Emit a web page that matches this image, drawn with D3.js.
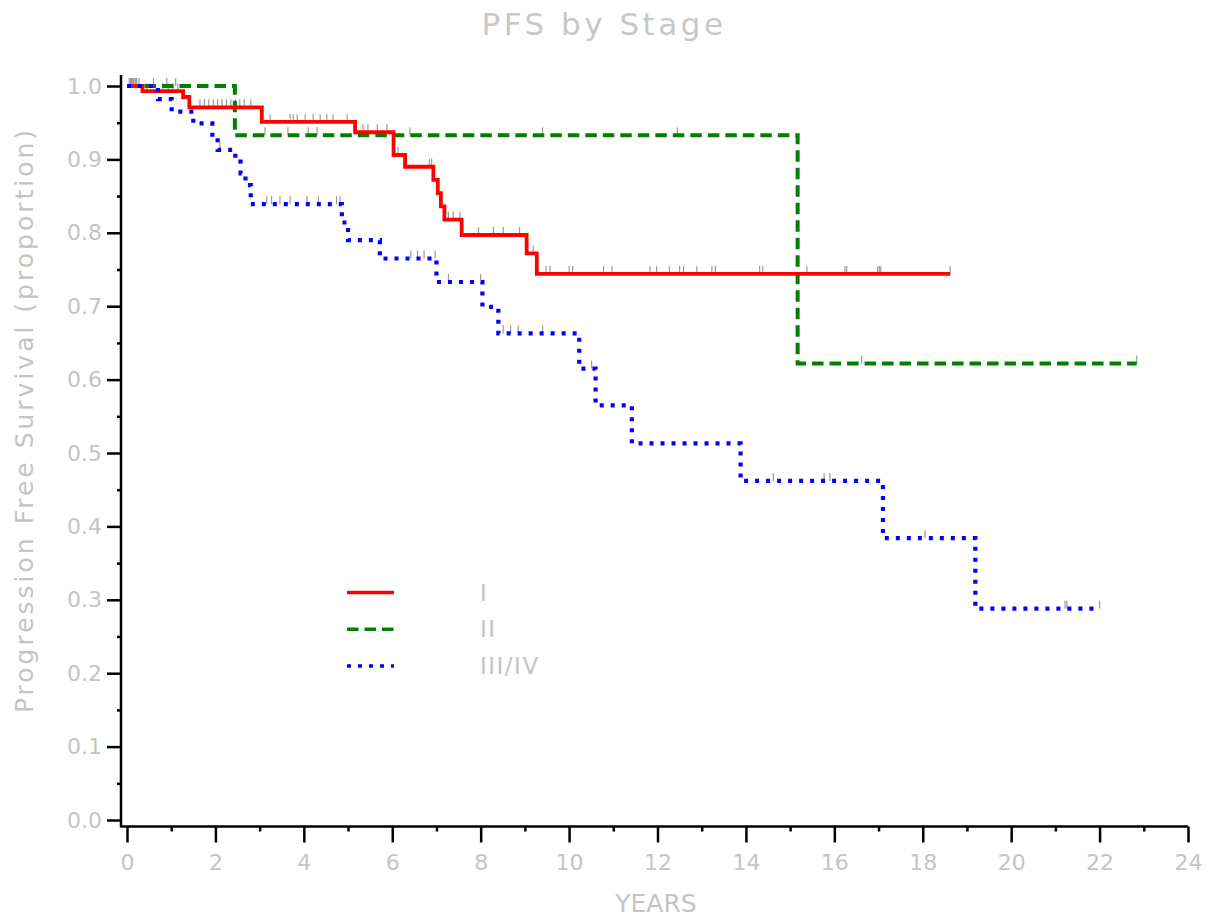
<!DOCTYPE html>
<html>
<head>
<meta charset="utf-8">
<script src="https://cdn.jsdelivr.net/npm/d3@7"></script>
<style>
  body { margin: 0; background: #fff; }
  text { font-family: "DejaVu Sans", sans-serif; fill: #c4c4c4; }
</style>
</head>
<body>
<div id="chart"></div>
<script>
// Kaplan-Meier step data (years, proportion)
const stageITime = [0, 0.35, 1.27, 1.41, 3.05, 5.16, 6.03, 6.29, 6.93, 7.03, 7.10, 7.18, 7.57, 9.04, 9.27, 18.62];
const stageISurv = [1.0, 0.993, 0.985, 0.971, 0.951, 0.937, 0.906, 0.890, 0.872, 0.854, 0.836, 0.818, 0.797, 0.772, 0.744, 0.744];

const stageIITime = [0, 2.44, 15.17, 22.84];
const stageIISurv = [1.0, 0.933, 0.622, 0.622];

const stageIIITime = [0, 0.70, 1.01, 1.50, 1.93, 2.05, 2.45, 2.57, 2.68, 2.80, 4.86, 5.00, 5.72, 7.00, 8.04, 8.40, 10.23, 10.60, 11.42, 13.88, 17.10, 19.19, 21.97];
const stageIIISurv = [1.0, 0.982, 0.965, 0.949, 0.930, 0.913, 0.897, 0.881, 0.865, 0.839, 0.814, 0.790, 0.765, 0.733, 0.699, 0.663, 0.615, 0.565, 0.513, 0.462, 0.384, 0.288, 0.288];

// censoring times
const stageICensor = [0.05, 0.08, 0.10, 0.12, 0.15, 0.18, 0.22, 0.27, 0.45, 0.81, 0.93, 1.04, 1.15,
  1.65, 1.75, 1.85, 1.95, 2.05, 2.15, 2.25, 2.35, 2.45, 2.55, 2.65, 2.80,
  3.24, 3.69, 3.76, 3.85, 4.03, 4.21, 4.37, 4.52, 4.66, 4.98, 5.34, 5.45, 5.66, 5.88, 6.13,
  6.84, 6.89, 7.27, 7.38, 7.53, 7.95, 8.29, 8.51, 8.88, 9.19,
  9.48, 9.57, 10.00, 10.08, 10.78, 10.97, 11.83, 11.98, 12.27, 12.50, 12.59, 12.89, 13.23, 13.31,
  14.31, 14.38, 15.38, 16.24, 16.28, 16.98, 17.02, 17.05, 18.62];
const stageIICensor = [0.20, 0.60, 0.90, 1.10, 3.12, 3.64, 4.10, 4.30, 6.40, 9.40, 12.45, 16.62, 22.84];
const stageIIICensor = [0.10, 0.20, 2.10, 3.16, 3.27, 3.46, 3.69, 4.07, 4.33, 4.74, 4.82,
  6.42, 6.57, 6.72, 6.97, 7.27, 8.00, 8.51, 8.68, 8.85, 9.40, 10.51,
  14.62, 15.77, 15.90, 18.05, 21.22, 21.26, 22.00];

const groupNames = ["I", "II", "III/IV"];
const xMajor = d3.range(0, 25, 2);
const xMinor = d3.range(1, 24, 2);
const yMajor = d3.range(0, 11).map(d => d / 10);
const yMinor = d3.range(0, 10).map(d => d / 10 + 0.05);

const groups = [
  { name: groupNames[1], time: stageIITime, surv: stageIISurv, censor: stageIICensor,
    color: "#008000", width: 4, dash: "11.5,6" },
  { name: groupNames[0], time: stageITime, surv: stageISurv, censor: stageICensor,
    color: "#ff0000", width: 3.8, dash: null },
  { name: groupNames[2], time: stageIIITime, surv: stageIIISurv, censor: stageIIICensor,
    color: "#0000ff", width: 4.2, dash: "4,7" }
];

const width = 1219, height = 922;
const svg = d3.select("#chart").append("svg")
  .attr("width", width)
  .attr("height", height);

const x = d3.scaleLinear().domain([0, 24]).range([127, 1188]);
const y = d3.scaleLinear().domain([0, 1]).range([820, 86]);

// title
svg.append("text")
  .attr("x", 604).attr("y", 35)
  .attr("text-anchor", "middle")
  .style("font-size", "31px")
  .style("letter-spacing", "3.5px")
  .style("fill", "#c8c8c8")
  .text("PFS by Stage");

// axes
const axisY = 826.5, axisX = 121;

svg.append("g").attr("transform", `translate(0, ${axisY})`)
  .call(d3.axisBottom(x).tickValues(xMajor).tickSize(16).tickPadding(12).tickSizeOuter(0));
svg.append("g").attr("transform", `translate(0, ${axisY})`)
  .call(d3.axisBottom(x).tickValues(xMinor).tickSize(5).tickFormat("").tickSizeOuter(0));

svg.append("g").attr("transform", `translate(${axisX}, 0)`)
  .call(d3.axisLeft(y).tickValues(yMajor).tickFormat(d3.format(".1f")).tickSize(14).tickPadding(5).tickSizeOuter(0));
svg.append("g").attr("transform", `translate(${axisX}, 0)`)
  .call(d3.axisLeft(y).tickValues(yMinor).tickSize(4).tickFormat("").tickSizeOuter(0));

svg.selectAll(".domain").remove();
svg.selectAll(".tick line").attr("stroke", "#000").attr("stroke-width", 2.5);
svg.selectAll(".tick text")
  .style("font-size", "22px")
  .style("font-family", "'DejaVu Sans', sans-serif")
  .attr("fill", "#c4c4c4");

svg.append("line")
  .attr("x1", axisX).attr("x2", x(24))
  .attr("y1", axisY).attr("y2", axisY)
  .attr("stroke", "#000").attr("stroke-width", 2.5);
svg.append("line")
  .attr("x1", axisX).attr("x2", axisX)
  .attr("y1", y(1.015)).attr("y2", axisY + 1)
  .attr("stroke", "#000").attr("stroke-width", 2.5);

// axis labels
svg.append("text")
  .attr("x", 656).attr("y", 912)
  .attr("text-anchor", "middle")
  .style("font-size", "25px")
  .text("YEARS");

svg.append("text")
  .attr("transform", "translate(33, 420) rotate(-90)")
  .attr("text-anchor", "middle")
  .style("font-size", "25px")
  .style("letter-spacing", "3px")
  .text("Progression Free Survival (proportion)");

// survival curves
const line = d3.line()
  .x(d => x(d[0]))
  .y(d => y(d[1]))
  .curve(d3.curveStepAfter);

function survAt(g, t) {
  const i = d3.bisectRight(g.time, t) - 1;
  return g.surv[Math.max(0, i)];
}

// censor marks
groups.forEach(g => {
  svg.append("g").selectAll("line")
    .data(g.censor)
    .enter().append("line")
    .attr("x1", d => x(d)).attr("x2", d => x(d))
    .attr("y1", d => y(survAt(g, d)))
    .attr("y2", d => y(survAt(g, d)) - 8)
    .attr("stroke", "#9a9a9a")
    .attr("stroke-width", 1.2);
});

groups.forEach(g => {
  svg.append("path")
    .datum(g.time.map((t, i) => [t, g.surv[i]]))
    .attr("d", line)
    .attr("fill", "none")
    .attr("stroke", g.color)
    .attr("stroke-width", g.width)
    .attr("stroke-dasharray", g.dash);
});

// legend
const legendOrder = [groups[1], groups[0], groups[2]];
const legend = svg.append("g");
legendOrder.forEach((g, i) => {
  const ly = 592.5 + i * 36.8;
  legend.append("line")
    .attr("x1", 347).attr("x2", 394)
    .attr("y1", ly).attr("y2", ly)
    .attr("stroke", g.color)
    .attr("stroke-width", 3.5)
    .attr("stroke-dasharray", g.dash);
  legend.append("text")
    .attr("x", 480).attr("y", ly + 8)
    .style("font-size", "23px")
    .style("letter-spacing", "1.5px")
    .text(g.name);
});
</script>
</body>
</html>
